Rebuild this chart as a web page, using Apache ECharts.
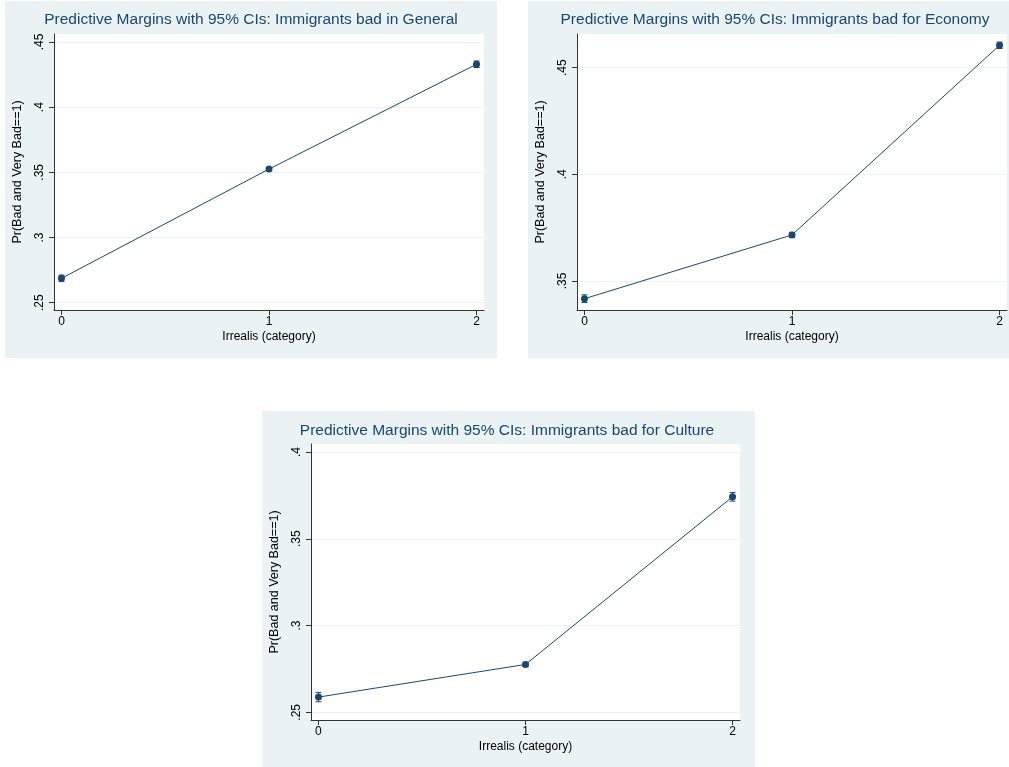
<!DOCTYPE html>
<html>
<head>
<meta charset="utf-8">
<script src="https://cdn.jsdelivr.net/npm/echarts@6/dist/echarts.min.js"></script>
<style>
  html, body { margin: 0; padding: 0; background: #ffffff; }
  #chart { width: 1009px; height: 767px; }
</style>
</head>
<body>
<div id="chart"></div>
<script>
// ---- Data ----
const titles = [
  'Predictive Margins with 95% CIs: Immigrants bad in General',
  'Predictive Margins with 95% CIs: Immigrants bad for Economy',
  'Predictive Margins with 95% CIs: Immigrants bad for Culture'
];
const xCategories = [0, 1, 2];
const xTicks = [0, 1, 2];
const xTitle = 'Irrealis (category)';
const yTitle = 'Pr(Bad and Very Bad==1)';

const generalMargin = [0.2687, 0.3525, 0.4329];
const generalLower  = [0.2662, 0.3513, 0.4304];
const generalUpper  = [0.2712, 0.3537, 0.4354];

const economyMargin = [0.3417, 0.3716, 0.4605];
const economyLower  = [0.3399, 0.3704, 0.4590];
const economyUpper  = [0.3435, 0.3728, 0.4620];

const cultureMargin = [0.2588, 0.2776, 0.3742];
const cultureLower  = [0.2561, 0.2764, 0.3717];
const cultureUpper  = [0.2615, 0.2788, 0.3767];

const generalYTicks = [0.25, 0.30, 0.35, 0.40, 0.45];
const economyYTicks = [0.35, 0.40, 0.45];
const cultureYTicks = [0.25, 0.30, 0.35, 0.40];

// ---- Styling / layout ----
const NAVY = '#1a476f';
const BG = '#eaf2f3';
const FONT = 'Liberation Sans, Arial, Helvetica, sans-serif';

const panels = [
  { margin: generalMargin, lower: generalLower, upper: generalUpper, yTicks: generalYTicks,
    yMin: 0.2444, yMax: 0.4561,
    bg: { x: 5, y: 1, w: 492, h: 357 },
    grid: { left: 54, top: 34, width: 430, height: 276 }, titleX: 251, titleY: 12 },
  { margin: economyMargin, lower: economyLower, upper: economyUpper, yTicks: economyYTicks,
    yMin: 0.3364, yMax: 0.4658,
    bg: { x: 528, y: 1, w: 481, h: 357 },
    grid: { left: 577, top: 34, width: 430, height: 276 }, titleX: 775, titleY: 12 },
  { margin: cultureMargin, lower: cultureLower, upper: cultureUpper, yTicks: cultureYTicks,
    yMin: 0.2456, yMax: 0.4046,
    bg: { x: 262, y: 411, w: 493, h: 356 },
    grid: { left: 311, top: 444, width: 429, height: 276 }, titleX: 507, titleY: 423 }
];

const fmt = v => {
  const s = (Math.round(v * 100) / 100).toString();
  return s.replace(/^0(?=\.)/, '');
};

const grids = [], xAxes = [], yAxes = [], series = [], graphics = [];

panels.forEach((p, i) => {
  graphics.push({
    type: 'rect', z: -100,
    shape: { x: p.bg.x, y: p.bg.y, width: p.bg.w, height: p.bg.h },
    style: { fill: BG }
  });
  graphics.push({
    type: 'text', z: 100,
    x: p.titleX, y: p.titleY,
    style: { text: titles[i], fill: NAVY, font: '15.5px ' + FONT, textAlign: 'center', textVerticalAlign: 'top' }
  });
  grids.push(Object.assign({ show: true, backgroundColor: '#ffffff', borderWidth: 0, containLabel: false }, p.grid));
  xAxes.push({
    type: 'value', gridIndex: i, min: -0.036, max: 2.036,
    name: xTitle, nameLocation: 'middle', nameGap: 21,
    nameTextStyle: { color: '#000', fontSize: 12, fontFamily: FONT, verticalAlign: 'top' },
    axisLine: { show: true, onZero: false, lineStyle: { color: '#333', width: 1 } },
    axisTick: { show: true, length: 5, customValues: xTicks, lineStyle: { color: '#333' } },
    axisLabel: { customValues: xTicks, color: '#000', fontSize: 12, fontFamily: FONT, margin: 6,
                 formatter: v => String(v) },
    splitLine: { show: false }
  });
  yAxes.push({
    type: 'value', gridIndex: i, min: p.yMin, max: p.yMax,
    name: yTitle, nameLocation: 'middle', nameGap: 30,
    nameTextStyle: { color: '#000', fontSize: 12.5, fontFamily: FONT },
    axisLine: { show: true, onZero: false, lineStyle: { color: '#333', width: 1 } },
    axisTick: { show: true, length: 5, customValues: p.yTicks, lineStyle: { color: '#333' } },
    axisLabel: { customValues: p.yTicks, color: '#000', fontSize: 12, fontFamily: FONT, rotate: 90, margin: 8,
                 formatter: fmt },
    splitLine: { show: true, lineStyle: { color: BG, width: 1 } }
  });
  // connecting line + markers
  series.push({
    type: 'line', xAxisIndex: i, yAxisIndex: i,
    data: xCategories.map((x, k) => [x, p.margin[k]]),
    symbol: 'circle', symbolSize: 7,
    lineStyle: { color: NAVY, width: 1 },
    itemStyle: { color: NAVY },
    z: 3, animation: false
  });
  // CI error bars
  series.push({
    type: 'custom', xAxisIndex: i, yAxisIndex: i,
    data: xCategories.map((x, k) => [x, p.lower[k], p.upper[k]]),
    renderItem: (params, api) => {
      const x = api.value(0);
      const lo = api.coord([x, api.value(1)]);
      const hi = api.coord([x, api.value(2)]);
      const cap = 3;
      const st = { stroke: NAVY, lineWidth: 1 };
      return {
        type: 'group',
        children: [
          { type: 'line', shape: { x1: lo[0], y1: lo[1], x2: hi[0], y2: hi[1] }, style: st },
          { type: 'line', shape: { x1: lo[0] - cap, y1: lo[1], x2: lo[0] + cap, y2: lo[1] }, style: st },
          { type: 'line', shape: { x1: hi[0] - cap, y1: hi[1], x2: hi[0] + cap, y2: hi[1] }, style: st }
        ]
      };
    },
    z: 2, animation: false
  });
});

const chart = echarts.init(document.getElementById('chart'), null, { renderer: 'canvas' });
chart.setOption({
  backgroundColor: '#ffffff',
  animation: false,
  graphic: { elements: graphics },
  grid: grids,
  xAxis: xAxes,
  yAxis: yAxes,
  series: series
});
</script>
</body>
</html>
